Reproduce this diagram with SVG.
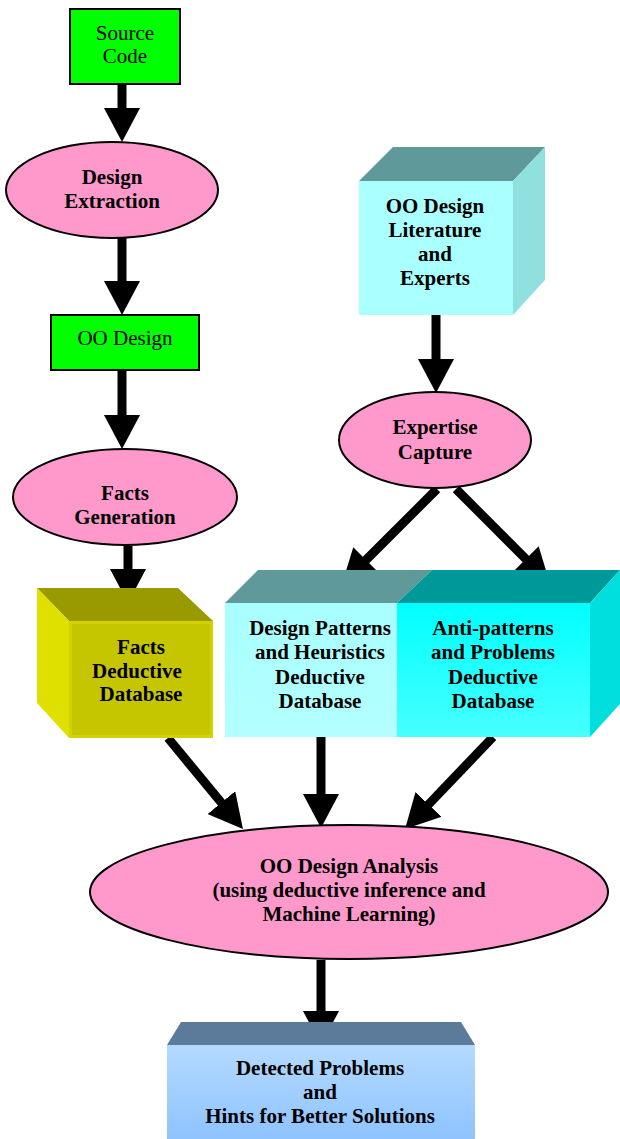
<svg xmlns="http://www.w3.org/2000/svg" width="620" height="1139" viewBox="0 0 620 1139">
<defs>
<style>
.t{font-family:"Liberation Serif","Times New Roman",serif;font-size:21px;text-anchor:middle;fill:#000}
.b{font-weight:bold}
.ell{fill:#ff99cc;stroke:#000;stroke-width:2}
.grn{fill:#00ff00;stroke:#000;stroke-width:2}
.arr{stroke:#000;stroke-width:9;fill:none;marker-end:url(#ah)}
</style>
<marker id="ah" markerUnits="userSpaceOnUse" markerWidth="34" markerHeight="36" viewBox="0 0 34 36" refX="16" refY="18" orient="auto">
<path d="M0,0 L34,18 L0,36 Z" fill="#000"/>
</marker>
<linearGradient id="gAnti" x1="0" y1="0" x2="0" y2="1"><stop offset="0" stop-color="#00ffff"/><stop offset="1" stop-color="#48ffff"/></linearGradient>
<linearGradient id="gPat" x1="0" y1="0" x2="0" y2="1"><stop offset="0" stop-color="#a8ffff"/><stop offset="1" stop-color="#b4ffff"/></linearGradient>
<linearGradient id="gDet" x1="0" y1="0" x2="0" y2="1"><stop offset="0" stop-color="#b4daff"/><stop offset="1" stop-color="#8ec3ff"/></linearGradient>
</defs>

<g id="connectors">
<line class="arr" x1="122" y1="84" x2="122" y2="124"/>
<line class="arr" x1="122" y1="238" x2="122" y2="297"/>
<line class="arr" x1="122" y1="370" x2="122" y2="431"/>
<line class="arr" x1="128" y1="546" x2="128" y2="585"/>
<line class="arr" x1="436" y1="315" x2="436" y2="375"/>
<line class="arr" x1="437" y1="489" x2="354.7" y2="571.3"/>
<line class="arr" x1="456" y1="489" x2="537.2" y2="570.4"/>
<line class="arr" x1="168" y1="738" x2="231.5" y2="815"/>
<line class="arr" x1="321" y1="737" x2="321" y2="810"/>
<line class="arr" x1="493" y1="737" x2="417.5" y2="816"/>
<line class="arr" x1="321" y1="960" x2="321" y2="1027"/>
</g>

<g id="source-code">
<rect class="grn" x="70" y="9" width="110" height="75"/>
<text class="t" x="125" y="40">Source</text>
<text class="t" x="125" y="63">Code</text>
</g>

<g id="design-extraction">
<ellipse class="ell" cx="112" cy="190" rx="106" ry="48"/>
<text class="t b" x="112" y="184">Design</text>
<text class="t b" x="112" y="208">Extraction</text>
</g>

<g id="oo-design">
<rect class="grn" x="51" y="315" width="148" height="55"/>
<text class="t" x="125" y="345">OO Design</text>
</g>

<g id="facts-generation">
<ellipse class="ell" cx="125" cy="497" rx="112" ry="48"/>
<text class="t b" x="125" y="500">Facts</text>
<text class="t b" x="125" y="524">Generation</text>
</g>

<g id="facts-db">
<polygon points="37,588 178,588 213,621 69,621" fill="#999900"/>
<polygon points="37,588 69,621 69,738 37,703" fill="#e0e000"/>
<rect x="70.5" y="622.5" width="141" height="114" fill="#c6c600" stroke="#d2d200" stroke-width="3"/>
<text class="t b" x="141" y="654">Facts</text>
<text class="t b" x="137" y="678">Deductive</text>
<text class="t b" x="141" y="701">Database</text>
</g>

<g id="literature">
<polygon points="393,147 545,147 513,181 359,181" fill="#609999"/>
<polygon points="545,147 545,280 513,315 513,181" fill="#90e0e0"/>
<rect x="359" y="181" width="154" height="134" fill="#aaffff"/>
<text class="t b" x="435" y="213">OO Design</text>
<text class="t b" x="435" y="237">Literature</text>
<text class="t b" x="435" y="261">and</text>
<text class="t b" x="435" y="285">Experts</text>
</g>

<g id="expertise-capture">
<ellipse class="ell" cx="435" cy="440" rx="96" ry="48"/>
<text class="t b" x="435" y="434">Expertise</text>
<text class="t b" x="435" y="459">Capture</text>
</g>

<g id="patterns-db">
<polygon points="258,570 432,570 397,603 225,603" fill="#609999"/>
<rect x="225" y="603" width="172" height="134" fill="url(#gPat)"/>
<text class="t b" x="320" y="635">Design Patterns</text>
<text class="t b" x="320" y="659">and Heuristics</text>
<text class="t b" x="320" y="684">Deductive</text>
<text class="t b" x="320" y="708">Database</text>
</g>

<g id="antipatterns-db">
<polygon points="432,570 620,570 590,603 397,603" fill="#009999"/>
<polygon points="620,570 620,704 590,737 590,603" fill="#00dede"/>
<rect x="397" y="603" width="193" height="134" fill="url(#gAnti)"/>
<text class="t b" x="493" y="635">Anti-patterns</text>
<text class="t b" x="493" y="659">and Problems</text>
<text class="t b" x="493" y="684">Deductive</text>
<text class="t b" x="493" y="708">Database</text>
</g>

<g id="analysis">
<ellipse class="ell" cx="349" cy="892" rx="259" ry="67"/>
<text class="t b" x="349" y="873">OO Design Analysis</text>
<text class="t b" x="349" y="897">(using deductive inference and</text>
<text class="t b" x="349" y="921">Machine Learning)</text>
</g>

<g id="detected">
<polygon points="181,1022 461,1022 475,1045 167,1045" fill="#5c7a99"/>
<rect x="167" y="1045" width="308" height="94" fill="url(#gDet)"/>
<text class="t b" x="320" y="1075">Detected Problems</text>
<text class="t b" x="320" y="1099">and</text>
<text class="t b" x="320" y="1123">Hints for Better Solutions</text>
</g>
</svg>
